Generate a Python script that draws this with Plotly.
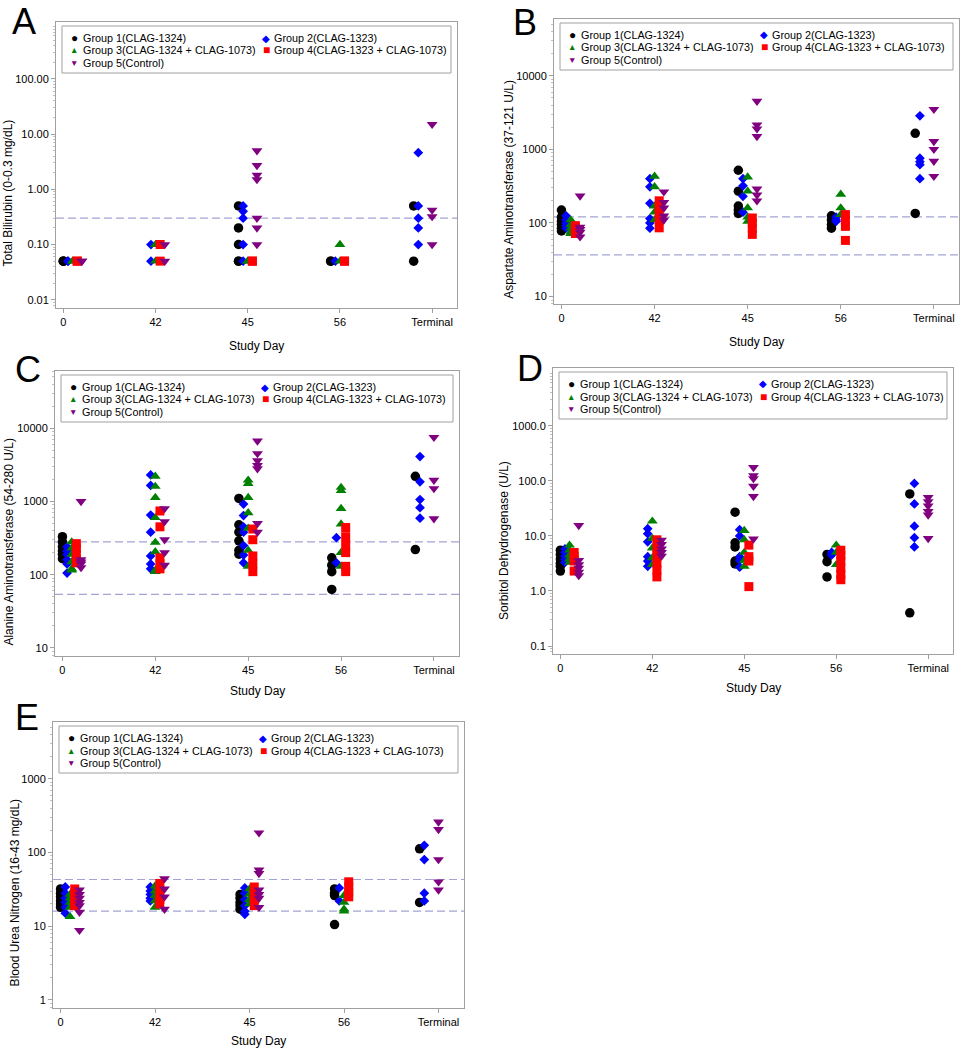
import math
import plotly.graph_objects as go

W, H = 963, 1050
FONT = "Liberation Sans, Arial, Helvetica, sans-serif"
FRAME = "#a0a0a0"
REF_COLOR = "#a4a4d4"

DAYS = ["0", "42", "45", "56", "Terminal"]
GROUPS = ["Group 1(CLAG-1324)", "Group 2(CLAG-1323)", "Group 3(CLAG-1324 + CLAG-1073)",
          "Group 4(CLAG-1323 + CLAG-1073)", "Group 5(Control)"]
COLORS = ["#000000", "#0000FF", "#008000", "#FF0000", "#800080"]
SYMBOLS = ["circle", "diamond", "triangle-up", "square", "triangle-down"]
SIZES = [9.5, 7.5, 9.5, 9, 9.5]
GLYPHS = ["\u25CF", "\u25C6", "\u25B2", "\u25A0", "\u25BC"]
GLYPH_SIZES = [12, 10, 8.5, 12, 8.5]

# ---------------- data (one list per study day: 0, 42, 45, 56, Terminal) ----------------
# A: Total Bilirubin (mg/dL)
TBIL_G1 = [[0.05, 0.05, 0.05], [], [0.5, 0.2, 0.1, 0.05, 0.05], [0.05, 0.05], [0.5, 0.05]]
TBIL_G2 = [[0.05, 0.05], [0.1, 0.05], [0.5, 0.4, 0.3, 0.1, 0.05], [0.05], [4.6, 0.5, 0.3, 0.2, 0.1]]
TBIL_G3 = [[0.05, 0.05], [0.1, 0.05], [0.05, 0.05], [0.1, 0.05], []]
TBIL_G4 = [[0.05, 0.05], [0.1, 0.05], [0.05, 0.05], [0.05, 0.05], []]
TBIL_G5 = [[0.05, 0.05], [0.1, 0.05], [5.0, 2.7, 1.8, 1.5, 0.3, 0.2, 0.1], [], [15.0, 0.42, 0.32, 0.1]]
TBIL_REF = [0.3]
TBIL_TICKS = [0.01, 0.1, 1, 10, 100]
TBIL_TICKTEXT = ["0.01", "0.10", "1.00", "10.00", "100.00"]

# B: Aspartate Aminotransferase (U/L)
AST_G1 = [[150, 120, 105, 95, 85, 78], [], [520, 270, 170, 150, 135], [125, 110, 95, 85], [1650, 135]]
AST_G2 = [[125, 110, 100, 92, 85], [400, 310, 185, 115, 100, 85], [400, 320, 230, 140], [120, 110, 105],
          [2850, 760, 680, 620, 400]]
AST_G3 = [[110, 95, 85, 75, 72], [430, 310, 170, 140, 110], [420, 270, 160, 120, 105], [245, 160, 130], []]
AST_G4 = [[92, 85, 78, 72], [200, 165, 135, 110, 86], [117, 100, 85, 70], [130, 110, 90, 58], []]
AST_G5 = [[233, 88, 82, 75, 65], [265, 190, 160, 125, 110], [4500, 2150, 1900, 1500, 290, 240, 200], [],
          [3500, 1280, 1000, 690, 430]]
AST_REF = [121, 37]
AST_TICKS = [10, 100, 1000, 10000]
AST_TICKTEXT = ["10", "100", "1000", "10000"]

# C: Alanine Aminotransferase (U/L)
ALT_G1 = [[330, 280, 240, 210, 190, 165], [], [1100, 480, 380, 290, 215, 190], [170, 135, 110, 63], [2200, 220]]
ALT_G2 = [[240, 210, 190, 160, 140, 105], [2300, 1650, 650, 380, 180, 140, 120], [920, 640, 450, 380, 250, 185, 145],
          [320, 145], [4100, 1850, 1060, 820, 590]]
ALT_G3 = [[280, 230, 190, 150, 120, 115], [2200, 1600, 1130, 600, 275, 205, 115, 110],
          [1950, 1750, 1130, 700, 430, 215, 130], [1550, 1400, 800, 490, 200, 130], []]
ALT_G4 = [[265, 230, 190, 160, 145], [740, 450, 170, 140, 120], [420, 300, 180, 140, 110],
          [440, 330, 250, 200, 130, 110], []]
ALT_G5 = [[1000, 160, 150, 140, 125], [800, 530, 300, 200, 135], [6700, 4500, 3600, 3100, 2800, 500, 380], [],
          [7500, 1950, 1500, 580]]
ALT_REF = [280, 54]
ALT_TICKS = [10, 100, 1000, 10000]
ALT_TICKTEXT = ["10", "100", "1000", "10000"]

# D: Sorbitol Dehydrogenase (U/L)
SDH_G1 = [[5.5, 4.6, 3.8, 3.2, 2.8, 2.3], [], [27, 7.5, 6.3, 3.5, 3.1], [4.6, 3.4, 1.8], [58, 0.4]]
SDH_G2 = [[5.8, 5.0, 4.3, 3.8, 3.3], [13.5, 11.0, 7.8, 4.2, 3.5, 2.8], [13, 10, 4.2, 3.6, 2.7], [5.0, 4.5],
          [90, 38, 15, 9.3, 6.3]]
SDH_G3 = [[6.8, 5.5, 4.5, 3.8, 3.3], [18.5, 9.0, 6.0, 4.0, 3.0], [12.5, 8.5, 5.0, 3.6, 2.8], [6.8, 5.0, 3.0], []]
SDH_G4 = [[5.0, 4.2, 3.5, 2.3], [8.5, 6.0, 4.5, 3.2, 2.4, 1.8], [6.8, 4.2, 3.5, 1.2], [5.5, 4.5, 3.5, 2.6, 2.0, 1.6], []]
SDH_G5 = [[15.5, 3.6, 3.0, 2.6, 2.2, 1.9], [8.4, 7.0, 5.8, 5.0, 4.3], [175, 125, 110, 80, 52, 8.8], [],
          [50, 42, 35, 28, 24, 9]]
SDH_REF = []
SDH_TICKS = [0.1, 1, 10, 100, 1000]
SDH_TICKTEXT = ["0.1", "1.0", "10.0", "100.0", "1000.0"]

# E: Blood Urea Nitrogen (mg/dL)
BUN_G1 = [[32, 28, 25, 22, 20, 18], [], [27, 24, 21, 19, 17], [32, 28, 26, 10.5], [112, 21]]
BUN_G2 = [[34, 28, 24, 21, 18, 15], [34, 30, 27, 24, 22], [33, 28, 23, 19, 16, 14.5], [33, 22], [125, 80, 28, 22]]
BUN_G3 = [[27, 24, 21, 18, 13.5], [35, 30, 26, 22, 18], [32, 27, 23, 20], [26, 21, 17, 16], []]
BUN_G4 = [[32, 28, 24, 21, 19], [38, 32, 27, 23, 20], [34, 28, 23, 19], [40, 34, 29, 25], []]
BUN_G5 = [[31, 27, 24, 21, 19, 15.5, 8.8], [44, 32, 25, 17], [185, 58, 52, 31, 27, 24, 18], [],
          [260, 205, 80, 40, 31]]
BUN_REF = [43, 16]
BUN_TICKS = [1, 10, 100, 1000]
BUN_TICKTEXT = ["1", "10", "100", "1000"]

# ---------------- layout settings ----------------
GROUP_OFFSET = [-0.1, -0.05, 0.0, 0.05, 0.1]   # cluster offset within a study day
DAY_SHIFT = [0.1, 0.0, 0.0, 0.0, -0.1]         # clusters at the ends are pulled inward

PANELS = [
    dict(letter="A", title="Total Bilirubin (0-0.3 mg/dL)",
         data=[TBIL_G1, TBIL_G2, TBIL_G3, TBIL_G4, TBIL_G5], ref=TBIL_REF,
         ticks=TBIL_TICKS, ticktext=TBIL_TICKTEXT, yrange=[-2.15, 3.03],
         frame=(56, 22, 457, 308), ytitle_x=8, letter_xy=(24, 21), xtitle_y=346),
    dict(letter="B", title="Aspartate Aminotransferase (37-121 U/L)",
         data=[AST_G1, AST_G2, AST_G3, AST_G4, AST_G5], ref=AST_REF,
         ticks=AST_TICKS, ticktext=AST_TICKTEXT, yrange=[0.9, 4.77],
         frame=(554, 19, 959, 304), ytitle_x=509, letter_xy=(525, 23), xtitle_y=342),
    dict(letter="C", title="Alanine Aminotransferase (54-280 U/L)",
         data=[ALT_G1, ALT_G2, ALT_G3, ALT_G4, ALT_G5], ref=ALT_REF,
         ticks=ALT_TICKS, ticktext=ALT_TICKTEXT, yrange=[0.89, 4.78],
         frame=(55, 371, 459, 656), ytitle_x=9.5, letter_xy=(28, 369), xtitle_y=691),
    dict(letter="D", title="Sorbitol Dehydrogenase (U/L)",
         data=[SDH_G1, SDH_G2, SDH_G3, SDH_G4, SDH_G5], ref=SDH_REF,
         ticks=SDH_TICKS, ticktext=SDH_TICKTEXT, yrange=[-1.145, 4.05],
         frame=(553, 368, 953, 654), ytitle_x=504, letter_xy=(530, 368), xtitle_y=688),
    dict(letter="E", title="Blood Urea Nitrogen (16-43 mg/dL)",
         data=[BUN_G1, BUN_G2, BUN_G3, BUN_G4, BUN_G5], ref=BUN_REF,
         ticks=BUN_TICKS, ticktext=BUN_TICKTEXT, yrange=[-0.11, 3.77],
         frame=(53, 722, 464, 1008), ytitle_x=15, letter_xy=(27, 717), xtitle_y=1041),
]


def px_x(x):
    return x / W


def px_y(y):
    return 1 - y / H


fig = go.Figure()
annotations = []
shapes = []
layout_axes = {}

for i, p in enumerate(PANELS):
    k = i + 1
    sfx = "" if k == 1 else str(k)
    xa, ya = "x" + sfx, "y" + sfx
    l, t, r, b = p["frame"]

    for g in range(5):
        xs, ys = [], []
        for c, vals in enumerate(p["data"][g]):
            for v in vals:
                xs.append(c + DAY_SHIFT[c] + GROUP_OFFSET[g])
                ys.append(v)
        fig.add_trace(go.Scatter(
            x=xs, y=ys, mode="markers", name=GROUPS[g], showlegend=False,
            marker=dict(symbol=SYMBOLS[g], size=SIZES[g], color=COLORS[g], line=dict(width=0)),
            xaxis=xa, yaxis=ya,
        ))

    lo, hi = p["yrange"]
    minor_vals = [m * 10 ** d for d in range(math.floor(lo), math.ceil(hi) + 1) for m in range(2, 10)]
    layout_axes["xaxis" + sfx] = dict(
        domain=[px_x(l), px_x(r)], anchor=ya, range=[-0.08, 4.27],
        tickmode="array", tickvals=list(range(len(DAYS))), ticktext=DAYS,
        showline=True, mirror=True, linecolor=FRAME, linewidth=1,
        ticks="outside", ticklen=4, tickcolor=FRAME, showgrid=False, zeroline=False,
        tickfont=dict(family=FONT, size=11, color="#000000"),
    )
    layout_axes["yaxis" + sfx] = dict(
        domain=[px_y(b), px_y(t)], anchor=xa, type="log", range=[lo, hi],
        tickmode="array", tickvals=p["ticks"], ticktext=p["ticktext"],
        showline=True, mirror=True, linecolor=FRAME, linewidth=1,
        ticks="outside", ticklen=4, tickcolor=FRAME, showgrid=False, zeroline=False,
        tickfont=dict(family=FONT, size=11, color="#000000"),
        minor=dict(tickmode="array", tickvals=minor_vals, ticks="outside", ticklen=2,
                   tickcolor="#c0c0c0", showgrid=False),
    )

    # reference range lines
    for v in p["ref"]:
        shapes.append(dict(type="line", xref=xa + " domain", x0=0, x1=1, yref=ya, y0=v, y1=v,
                           line=dict(color=REF_COLOR, width=1.2, dash="8px,4px"), layer="below"))

    # legend box
    bl, br, bt = l + 6, r - 6, t + 4
    shapes.append(dict(type="rect", xref="paper", yref="paper",
                       x0=px_x(bl), x1=px_x(br), y0=px_y(bt + 47), y1=px_y(bt),
                       line=dict(color=FRAME, width=1), fillcolor="white", layer="below"))
    row_dy = [12, 24.5, 37]
    for g in range(5):
        col, row = g % 2, g // 2
        sym_x = bl + (12 if col == 0 else 204)
        txt_x = bl + (19 if col == 0 else 210)
        yy = bt + row_dy[row]
        annotations.append(dict(xref="paper", yref="paper", x=px_x(sym_x), y=px_y(yy),
                                text=GLYPHS[g], showarrow=False, xanchor="center", yanchor="middle",
                                font=dict(family=FONT, size=GLYPH_SIZES[g], color=COLORS[g])))
        annotations.append(dict(xref="paper", yref="paper", x=px_x(txt_x), y=px_y(yy),
                                text=GROUPS[g], showarrow=False, xanchor="left", yanchor="middle",
                                font=dict(family=FONT, size=10.8, color="#000000")))

    # axis titles
    top_tick = max(p["ticks"])
    top_tick_px = t + (hi - math.log10(top_tick)) / (hi - lo) * (b - t)
    annotations.append(dict(xref="paper", yref="paper", x=px_x(p["ytitle_x"]), y=px_y((top_tick_px + b) / 2),
                            text=p["title"], textangle=-90, showarrow=False,
                            xanchor="center", yanchor="middle",
                            font=dict(family=FONT, size=12, color="#000000")))
    annotations.append(dict(xref="paper", yref="paper", x=px_x((l + r) / 2), y=px_y(p["xtitle_y"]),
                            text="Study Day", showarrow=False, xanchor="center", yanchor="middle",
                            font=dict(family=FONT, size=12, color="#000000")))
    # panel letter
    lx, ly = p["letter_xy"]
    annotations.append(dict(xref="paper", yref="paper", x=px_x(lx), y=px_y(ly), text=p["letter"],
                            showarrow=False, xanchor="center", yanchor="middle",
                            font=dict(family=FONT, size=36, color="#000000")))

fig.update_layout(
    width=W, height=H, autosize=False,
    margin=dict(l=0, r=0, t=0, b=0),
    paper_bgcolor="white", plot_bgcolor="white",
    font=dict(family=FONT, size=11, color="#000000"),
    showlegend=False,
    shapes=shapes, annotations=annotations,
    **layout_axes,
)

fig.write_html(
    "out.html",
    config={"displayModeBar": False},
    post_script="document.documentElement.style.margin='0';document.body.style.margin='0';"
                "document.body.style.padding='0';document.body.style.overflow='hidden';",
)
